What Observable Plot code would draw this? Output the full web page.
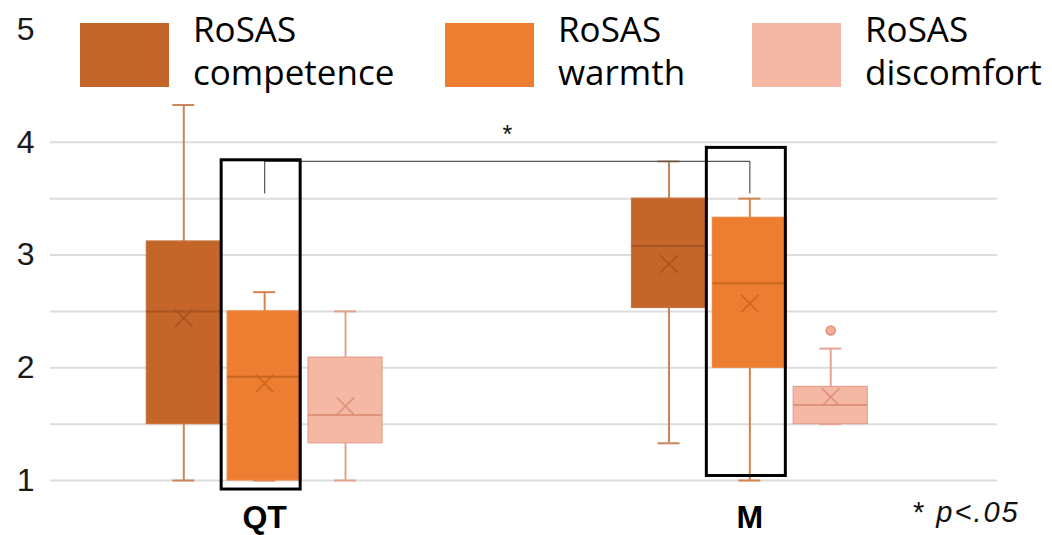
<!DOCTYPE html>
<html>
<head>
<meta charset="utf-8">
<script src="https://cdn.jsdelivr.net/npm/d3@7"></script>
<script src="https://cdn.jsdelivr.net/npm/@observablehq/plot@0.6"></script>
<style>
  html, body { margin: 0; padding: 0; background: #fff; }
  #wrap { position: relative; width: 1052px; height: 535px; overflow: hidden; background: #fff; }
  #chart svg { display: block; }
  #chart [aria-label^="y-axis"] text { font-family: "Liberation Sans", Arial, sans-serif; font-size: 32px; fill: #1a1a1a; }
  #chart [aria-label^="x-axis"] text { font-family: "Liberation Sans", Arial, sans-serif; font-size: 32px; font-weight: bold; fill: #000; }
  .lg-sw { position: absolute; top: 23px; width: 89px; height: 64px; }
  .lg-tx { position: absolute; top: 7px; font-family: "Open Sans", sans-serif; font-size: 35px; line-height: 43px; color: #000; white-space: nowrap; }
  #note { position: absolute; left: 913px; top: 498px; font-family: "Liberation Sans", Arial, sans-serif; font-size: 29px; line-height: 28px; letter-spacing: 2px; color: #111; white-space: nowrap; }
</style>
</head>
<body>
<div id="wrap">
  <div id="chart"></div>
  <div id="legend"></div>
  <div id="note">* <i>p&lt;.05</i></div>
</div>
<script>
// ---- data ----
const groups = ["QT", "M"];
const measures = ["competence", "warmth", "discomfort"];
const legendLabels = ["RoSAS<br>competence", "RoSAS<br>warmth", "RoSAS<br>discomfort"];
// order: QT competence, QT warmth, QT discomfort, M competence, M warmth, M discomfort
const whiskerLow  = [1.00, 1.00, 1.00, 1.33, 1.00, 1.50];
const quartile1   = [1.50, 1.00, 1.33, 2.53, 2.00, 1.50];
const medians     = [2.50, 1.92, 1.58, 3.08, 2.75, 1.67];
const quartile3   = [3.12, 2.50, 2.09, 3.50, 3.33, 1.83];
const whiskerHigh = [4.33, 2.67, 2.50, 3.83, 3.50, 2.17];
const means       = [2.44, 1.86, 1.66, 2.92, 2.57, 1.74];
const outlierGroup = ["M"];
const outlierMeasure = ["discomfort"];
const outlierValue = [2.33];
const gridValues = [1, 1.5, 2, 2.5, 3, 3.5, 4];
const yTicks = [1, 2, 3, 4, 5];
const highlightGroup = ["QT", "M"];
const highlightMeasure = ["warmth", "warmth"];
const highlightLow = [0.92, 1.04];
const highlightHigh = [3.84, 3.95];
const bracketGroup = ["QT", "QT", "M", "M"];
const bracketValue = [3.55, 3.83, 3.83, 3.55];
const starLabel = ["*"];
const starValue = [4.06];
const gapKeys = ["gap 1", "gap 2", "gap 3"];

// ---- styles ----
const fillColors    = ["#C4652A", "#ED7D31", "#F4B8A5"];
const boxStroke     = ["#C9743F", "#EF8742", "#E5A08B"];
const whiskerColors = ["#C8855A", "#D4834F", "#E3A48F"];
const medianColors  = ["#A9531E", "#C9651F", "#E0927B"];

const key = (g, m) => g + " " + m;
const domain = [
  ...measures.map(m => key(groups[0], m)),
  ...gapKeys,
  ...measures.map(m => key(groups[1], m))
];

const rows = groups.flatMap((g, gi) => measures.map((m, mi) => {
  const i = gi * measures.length + mi;
  return {group: g, measure: m, key: key(g, m),
    lo: whiskerLow[i], q1: quartile1[i], med: medians[i], q3: quartile3[i], hi: whiskerHigh[i], mean: means[i]};
}));
const outliers = outlierValue.map((v, i) => ({key: key(outlierGroup[i], outlierMeasure[i]), value: v}));
const highlights = highlightGroup.map((g, i) => ({key: key(g, highlightMeasure[i]), y1: highlightLow[i], y2: highlightHigh[i]}));
const bracket = bracketGroup.map((g, i) => ({key: key(g, "warmth"), value: bracketValue[i]}));
const star = starLabel.map((s, i) => ({key: gapKeys[1], value: starValue[i], label: s}));

const marks = [Plot.ruleY(gridValues, {stroke: "#dcdcdc", strokeWidth: 2})];
measures.forEach((m, mi) => {
  const data = rows.filter(r => r.measure === m);
  marks.push(
    Plot.ruleX(data, {x: "key", y1: "lo", y2: "hi", stroke: whiskerColors[mi], strokeWidth: 2}),
    Plot.tickY(data, {x: "key", y: "lo", stroke: whiskerColors[mi], strokeWidth: 2, insetLeft: 26, insetRight: 26}),
    Plot.tickY(data, {x: "key", y: "hi", stroke: whiskerColors[mi], strokeWidth: 2, insetLeft: 26, insetRight: 26}),
    Plot.barY(data, {x: "key", y1: "q1", y2: "q3", fill: fillColors[mi], stroke: boxStroke[mi], strokeWidth: 1.2}),
    Plot.tickY(data, {x: "key", y: "med", stroke: medianColors[mi], strokeWidth: 2}),
    Plot.dot(data, {x: "key", y: "mean", symbol: "times", r: 8, stroke: medianColors[mi], strokeWidth: 1.6})
  );
});
marks.push(
  Plot.dot(outliers, {x: "key", y: "value", r: 4.5, fill: "#F2AE98", stroke: "#DC8F78", strokeWidth: 1.5}),
  Plot.line(bracket, {x: "key", y: "value", stroke: "#555", strokeWidth: 1.2}),
  Plot.text(star, {x: "key", y: "value", text: "label", fontSize: 25, fill: "#111"}),
  Plot.barY(highlights, {x: "key", y1: "y1", y2: "y2", fill: "none", stroke: "#000", strokeWidth: 3, insetLeft: -6, insetRight: 1})
);

const chart = Plot.plot({
  width: 1052,
  height: 535,
  marginLeft: 50,
  marginRight: 55,
  marginTop: 29,
  marginBottom: 55,
  style: {background: "transparent", fontFamily: "Liberation Sans, Arial, sans-serif"},
  x: {
    type: "band", domain, range: [146.3, 867.2], paddingInner: 0.085, paddingOuter: 0, round: false,
    ticks: groups.map(g => key(g, "warmth")), tickFormat: d => d.split(" ")[0],
    tickSize: 0, tickPadding: 25, label: null
  },
  y: {domain: [1, 5], ticks: yTicks, tickFormat: d => String(d), tickSize: 0, tickPadding: 16, label: null},
  marks
});
document.getElementById("chart").appendChild(chart);

// ---- legend ----
const swLeft = [80, 445, 752];
const txLeft = [193, 558, 865];
const legend = document.getElementById("legend");
measures.forEach((m, mi) => {
  const sw = document.createElement("div");
  sw.className = "lg-sw";
  sw.style.left = swLeft[mi] + "px";
  sw.style.background = fillColors[mi];
  legend.appendChild(sw);
  const tx = document.createElement("div");
  tx.className = "lg-tx";
  tx.style.left = txLeft[mi] + "px";
  tx.innerHTML = legendLabels[mi];
  legend.appendChild(tx);
});
</script>
</body>
</html>
